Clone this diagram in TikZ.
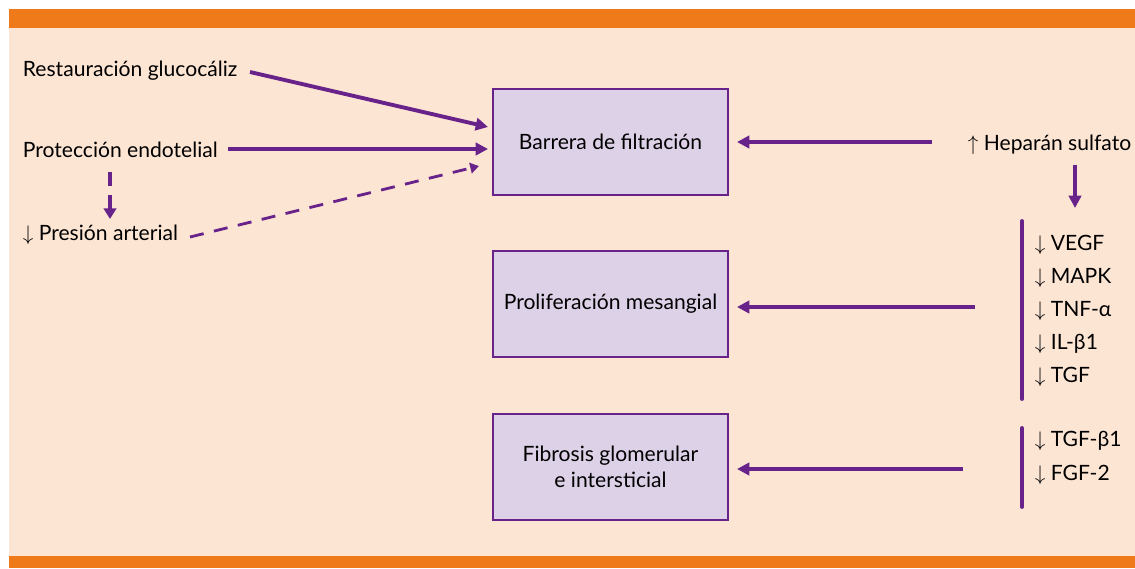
\documentclass[tikz,border=0pt]{standalone}
\usepackage{fontspec}
\setmainfont{Lato}
\usetikzlibrary{arrows.meta}

\definecolor{barorange}{HTML}{EE7A1A}
\definecolor{peach}{HTML}{FDE5D4}
\definecolor{lilac}{HTML}{DDD1E8}
\definecolor{violet}{HTML}{68238A}

\def\boxw{4.7cm}

\begin{document}
\begin{tikzpicture}[x=0.02cm,y=-0.02cm,line width=2.2pt,draw=violet,font=\fontsize{12}{15}\selectfont]
    \tikzstyle{box}=[draw=violet,fill=lilac,line width=1.1pt,minimum width=\boxw,minimum height=2.12cm,align=center]
    \tikzstyle{lbl}=[anchor=west,inner sep=0pt]
    \tikzstyle{item}=[anchor=west,inner sep=0pt]
    \tikzstyle{arrow}=[draw=violet,-{Triangle[length=7pt,width=7pt]}]
    \tikzstyle{dasharrow}=[draw=violet,line width=1.6pt,dash pattern=on 8pt off 6pt,-{Triangle[length=5pt,width=6pt]}]
    \tikzstyle{bracket}=[draw=violet,line cap=round]

    % Background and the two orange bars
    \fill[white] (0,0) rectangle (1135,568);
    \fill[peach] (9,28) rectangle (1135,556);
    \fill[barorange] (9,9) rectangle (1135,28);
    \fill[barorange] (9,556) rectangle (1135,568);

    % Draw the three boxes
    \node[box] (bf) at (610.5,142) {Barrera de filtración};
    \node[box] (pm) at (610.5,304) {Proliferación mesangial};
    \node[box] (fg) at (610.5,467) {Fibrosis glomerular\\e intersticial};

    % Left side labels
    \node[lbl] (rg) at (21,71) {Restauración glucocáliz};
    \node[lbl] (pe) at (21,150) {Protección endotelial};
    \node[lbl] (pa) at (21,235) {$\downarrow$ Presión arterial};

    % Right side labels
    \node[lbl] (hs) at (966,145) {$\uparrow$ Heparán sulfato};
    \node[item] (v1) at (1033,245) {$\downarrow$ VEGF};
    \node[item] (v2) at (1033,278) {$\downarrow$ MAPK};
    \node[item] (v3) at (1033,311) {$\downarrow$ TNF-α};
    \node[item] (v4) at (1033,344) {$\downarrow$ IL-β1};
    \node[item] (v5) at (1033,377) {$\downarrow$ TGF};
    \node[item] (w1) at (1033,441) {$\downarrow$ TGF-β1};
    \node[item] (w2) at (1033,475) {$\downarrow$ FGF-2};

    % Connector end points
    \coordinate (rg-out) at (250,72);
    \coordinate (pe-out) at (228,149);
    \coordinate (pa-out) at (190,237);
    \coordinate (pe-down) at (110,172);
    \coordinate (pa-up) at (110,219);
    \coordinate (bf-in1) at (488,127);
    \coordinate (bf-in2) at (488,149);
    \coordinate (bf-in3) at (479,166);
    \coordinate (bf-in4) at (737,142);
    \coordinate (hs-out) at (932,142);
    \coordinate (hs-down) at (1075,165);
    \coordinate (br1-in) at (1075,208);
    \coordinate (br1-top) at (1022,221);
    \coordinate (br1-bot) at (1022,399);
    \coordinate (br1-out) at (975,307);
    \coordinate (pm-in) at (737,307);
    \coordinate (br2-top) at (1022,428);
    \coordinate (br2-bot) at (1022,507);
    \coordinate (br2-out) at (963,469);
    \coordinate (fg-in) at (737,469);

    % Arrows into the filtration barrier
    \draw[arrow] (rg-out) -- (bf-in1);
    \draw[arrow] (pe-out) -- (bf-in2);
    \draw[dasharrow] (pa-out) -- (bf-in3);
    \draw[dasharrow,line width=2.2pt,dash pattern=on 8pt off 5pt,-{Triangle[length=6pt,width=7pt]}] (pe-down) -- (pa-up);
    \draw[arrow] (hs-out) -- (bf-in4);
    \draw[arrow] (hs-down) -- (br1-in);

    % Brackets on the right
    \draw[bracket] (br1-top) -- (br1-bot);
    \draw[bracket] (br2-top) -- (br2-bot);
    \draw[arrow] (br1-out) -- (pm-in);
    \draw[arrow] (br2-out) -- (fg-in);
\end{tikzpicture}
\end{document}
